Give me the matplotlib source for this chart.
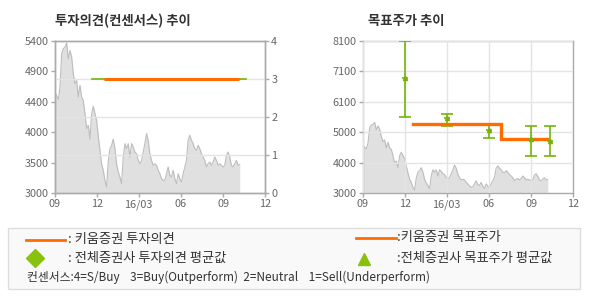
import numpy as np
import pandas as pd
import matplotlib
matplotlib.use("Agg")
import matplotlib.pyplot as plt
from matplotlib.patches import Rectangle

plt.rcParams['font.family'] = ['Noto Sans CJK KR', 'DejaVu Sans']

price = [4595, 4530, 4480, 4674, 5200, 5279, 5305, 5368, 5121, 5250,
         5150, 4884, 4726, 4779, 4516, 4700, 4516, 4463, 4253, 4016,
         4068, 3850, 4250, 4368, 4253, 4147, 3900, 3674, 3463, 3358,
         3200, 3095, 3500, 3700, 3750, 3850, 3700, 3463, 3332, 3253,
         3147, 3568, 3779, 3700, 3779, 3568, 3779, 3726, 3647, 3621,
         3516, 3463, 3516, 3647, 3779, 3937, 3832, 3621, 3516, 3437,
         3463, 3437, 3358, 3305, 3226, 3200, 3200, 3305, 3411, 3279,
         3253, 3358, 3226, 3147, 3305, 3226, 3174, 3305, 3411, 3516,
         3832, 3911, 3832, 3779, 3700, 3674, 3753, 3700, 3621, 3568,
         3516, 3411, 3463, 3489, 3437, 3489, 3568, 3516, 3437, 3463,
         3437, 3411, 3437, 3595, 3647, 3568, 3437, 3411, 3463, 3516,
         3437, 3450]
price_dates = pd.date_range('2015-09-01', '2016-10-07', periods=len(price))

# consensus (investment opinion)
kiwoom_op_dates = ['2015-12-16', '2016-10-05']
kiwoom_op = [3, 3]
avg_op_dates = ['2015-11-20', '2016-10-21']
avg_op = [3, 3]

# target price
kiwoom_tp_dates = ['2015-12-19', '2016-06-28', '2016-06-28', '2016-10-06']
kiwoom_tp = [5300, 5300, 4800, 4800]
avg_tp_dates = ['2015-12-01', '2016-03-01', '2016-06-01', '2016-09-01', '2016-10-12']
avg_tp_mean = [6850, 5500, 5100, 4800, 4750]
avg_tp_high = [8100, 5650, 5300, 5250, 5250]
avg_tp_low = [5550, 5250, 4850, 4250, 4250]

xtick_dates = ['2015-09-01', '2015-12-01', '2016-03-01', '2016-06-01', '2016-09-01', '2016-12-01']
xtick_labels = ['09', '12', '16/03', '06', '09', '12']
left_yticks = ['3000', '3500', '4000', '4400', '4900', '5400']
right_yticks = ['3000', '4000', '5000', '6100', '7100', '8100']

ORANGE = '#ff6c00'
GREEN = '#76b40a'
GREEN2 = '#88c20f'
GRID = '#e4e4e4'
SPINE = '#aaaaaa'
TXT = '#666666'


def style_axes(ax):
    for s in ax.spines.values():
        s.set_color(SPINE)
        s.set_linewidth(1)
    ax.tick_params(colors=SPINE, labelcolor=TXT, labelsize=7.8, length=3, width=1, pad=1.5)
    ax.set_xlim(pd.Timestamp('2015-09-01'), pd.Timestamp('2016-12-01'))
    ax.set_xticks(pd.to_datetime(xtick_dates))
    ax.set_xticklabels(xtick_labels)


fig = plt.figure(figsize=(5.9, 3.0), dpi=100)

# legend area
lax = fig.add_axes([0, 0, 1, 1])
lax.set_xlim(0, 590)
lax.set_ylim(300, 0)
lax.axis('off')
lax.add_patch(Rectangle((8, 228), 572, 61, facecolor='#f9f9f9', edgecolor='#dddddd', lw=1))
lax.plot([26, 65], [240, 240], color=ORANGE, lw=2)
lax.text(68, 240, ': 키움증권 투자의견', fontsize=9.5, color='#333333', va='center')
lax.plot([35], [258], marker='D', color=GREEN2, markersize=9, ls='none')
lax.text(68, 258, ': 전체증권사 투자의견 평균값', fontsize=9.5, color='#333333', va='center')
lax.text(27, 277, '컨센서스:4=S/Buy    3=Buy(Outperform)  2=Neutral    1=Sell(Underperform)',
         fontsize=8.5, color='#333333', va='center')
lax.plot([356, 396], [238, 238], color=ORANGE, lw=2)
lax.text(397, 238, ':키움증권 목표주가', fontsize=9.5, color='#333333', va='center')
lax.plot([364], [259], marker='^', color=GREEN2, markersize=8, ls='none')
lax.text(397, 258, ':전체증권사 목표주가 평균값', fontsize=9.5, color='#333333', va='center')

fig.text(55 / 590, 1 - 21 / 300, '투자의견(컨센서스) 추이', fontsize=9.6, fontweight='bold',
         color='#333333', va='center', ha='left')
fig.text(368 / 590, 1 - 21 / 300, '목표주가 추이', fontsize=9.6, fontweight='bold',
         color='#333333', va='center', ha='left')

# left chart: opinion
ax1 = fig.add_axes([55 / 590, 107 / 300, 210 / 590, 152 / 300])
style_axes(ax1)
ax1.fill_between(price_dates, price, 3000, color='#e0e0e0', lw=0, zorder=1)
ax1.plot(price_dates, price, color='#bdbdbd', lw=0.8, zorder=1.5)
ax1.set_ylim(3000, 5400)
ax1.set_yticks(np.linspace(3000, 5400, 6))
ax1.set_yticklabels(left_yticks)
ax1.grid(False)

ax1b = ax1.twinx()
style_axes(ax1b)
ax1b.set_ylim(0, 4)
ax1b.set_yticks([0, 1, 2, 3, 4])
ax1b.grid(True, color=GRID, lw=1)
ax1b.set_axisbelow(True)
ax1b.plot(pd.to_datetime(avg_op_dates), avg_op, color=GREEN, lw=1.2, zorder=3)
ax1b.plot(pd.to_datetime(kiwoom_op_dates), kiwoom_op, color=ORANGE, lw=2.2, zorder=4,
          solid_capstyle='butt')

# right chart: target price
ax2 = fig.add_axes([363 / 590, 107 / 300, 210 / 590, 152 / 300])
style_axes(ax2)
ax2.fill_between(price_dates, price, 3000, color='#e0e0e0', lw=0, zorder=1)
ax2.plot(price_dates, price, color='#bdbdbd', lw=0.8, zorder=1.5)
ax2.set_ylim(3000, 8100)
ax2.set_yticks(np.linspace(3000, 8100, 6))
ax2.set_yticklabels(right_yticks)
ax2.grid(True, color=GRID, lw=1, zorder=2)
ax2.set_axisbelow(False)

tp_x = pd.to_datetime(avg_tp_dates)
mean = np.array(avg_tp_mean)
yerr = [mean - np.array(avg_tp_low), np.array(avg_tp_high) - mean]
ax2.errorbar(tp_x, mean, yerr=yerr, fmt='none', ecolor=GREEN, elinewidth=1.2,
             capsize=4.5, capthick=1.2, zorder=3)
ax2.plot(pd.to_datetime(kiwoom_tp_dates), kiwoom_tp, color=ORANGE, lw=2.4, zorder=4,
         solid_joinstyle='miter')
ax2.plot(tp_x, mean, ls='none', marker='_', color=GREEN, markersize=5, mew=1.2, zorder=5)
ax2.plot(tp_x, mean, ls='none', marker='^', color=GREEN, markersize=3, zorder=5)

fig.savefig('out.png', dpi=100)
